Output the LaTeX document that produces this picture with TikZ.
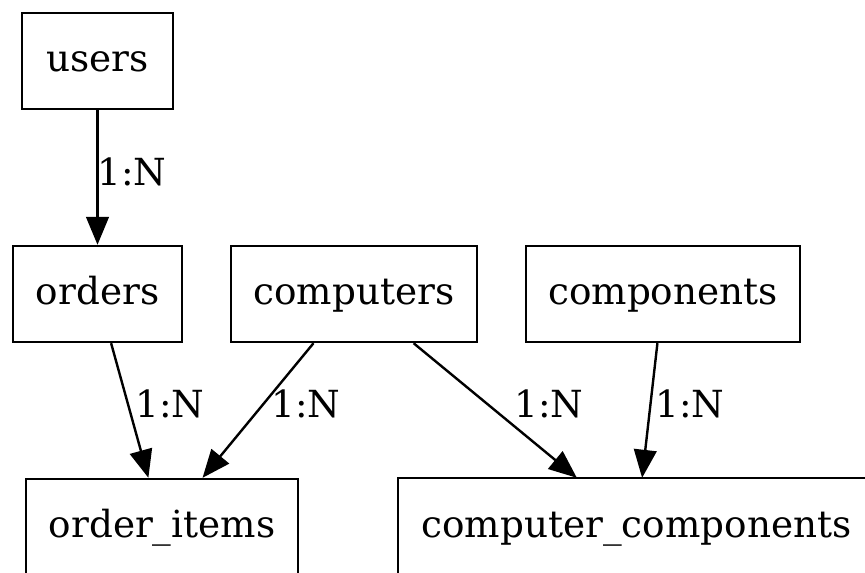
\documentclass[tikz,border=0pt]{standalone}
\usepackage{fontspec}
\setmainfont{DejaVu Serif}
\usetikzlibrary{arrows.meta}
\begin{document}
\begin{tikzpicture}[x=0.375pt,y=-0.375pt,
  tbl/.style={draw, line width=0.9pt, inner sep=0pt, align=center,
    font=\fontsize{14pt}{16pt}\selectfont, text height=1.0em, text depth=0.25em,
    minimum height=96*0.375pt},
  lbl/.style={inner sep=0pt, font=\fontsize{14pt}{16pt}\selectfont, text height=1.0em, text depth=0.25em},
  rel/.style={line width=0.9pt, -{Triangle[length=10.5pt,width=8.5pt]}}]
\useasboundingbox (0,0) rectangle (865,572);
\node[tbl, minimum width=151*0.375pt] (users) at (97.5,61) {users};
\node[tbl, minimum width=169*0.375pt] (orders) at (97.5,294) {orders};
\node[tbl, minimum width=246*0.375pt] (computers) at (354,294) {computers};
\node[tbl, minimum width=274*0.375pt] (components) at (663,294) {components};
\node[tbl, minimum width=272*0.375pt] (orderitems) at (162,527) {order\_items};
\node[tbl, draw=none, minimum width=475*0.375pt] (cc) at (636.5,527) {computer\_components};
\draw[line width=0.9pt] (cc.south west) -- (cc.north west) -- ([xshift=20pt]cc.north east);
\draw[rel] (users) -- (orders);
\draw[rel] (orders) -- (orderitems);
\draw[rel] (computers) -- (orderitems);
\draw[rel] (computers) -- (cc);
\draw[rel] (components) -- (cc);
\node[lbl] (l1) at (132,175) {1:N};
\node[lbl] (l2) at (170,407) {1:N};
\node[lbl] (l3) at (306,407) {1:N};
\node[lbl] (l4) at (549,407) {1:N};
\node[lbl] (l5) at (690,407) {1:N};
\end{tikzpicture}
\end{document}
